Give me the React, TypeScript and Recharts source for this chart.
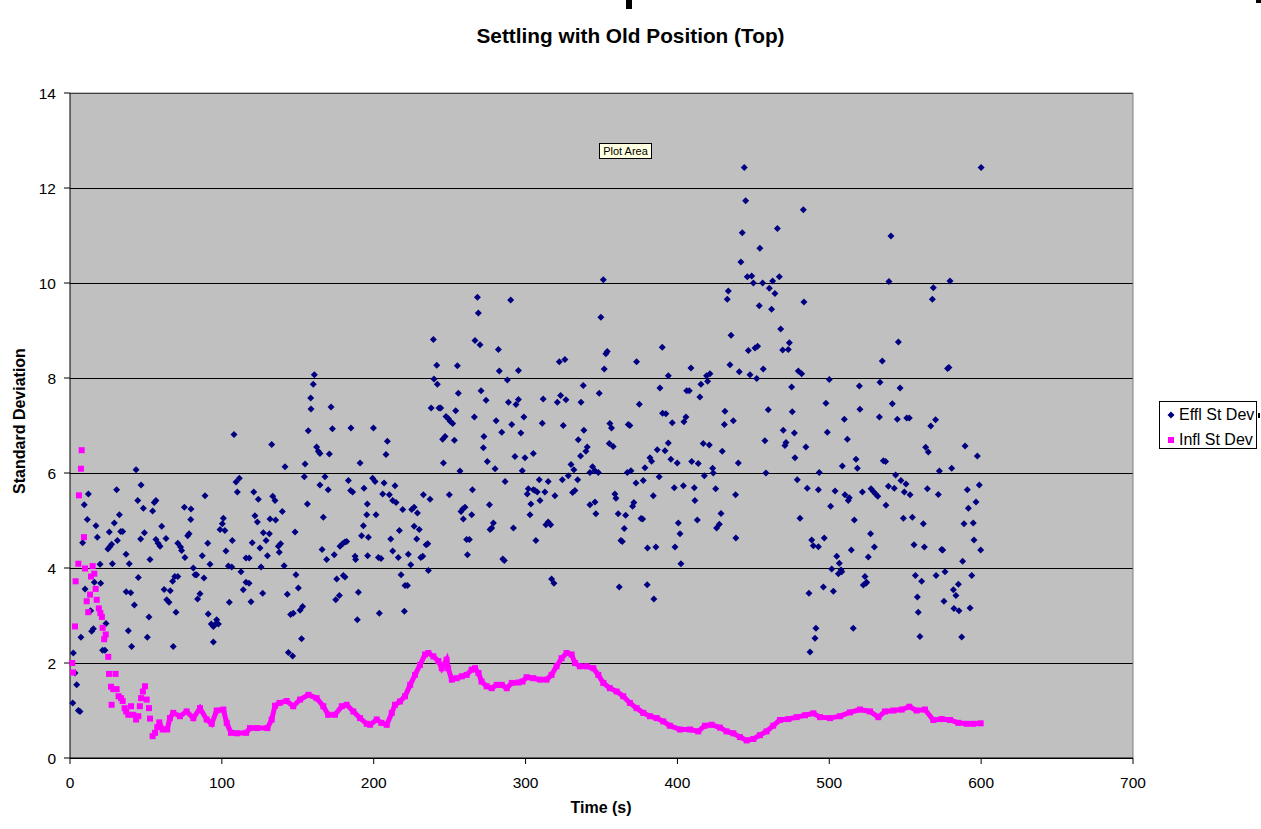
import React from "react";
import {
  CartesianGrid,
  ReferenceLine,
  Scatter,
  ScatterChart,
  XAxis,
  YAxis,
} from "recharts";

const NAVY = "#000080";
const MAGENTA = "#FF00FF";
const FONT = "Arial, 'Liberation Sans', sans-serif";

const X_TICKS = [0, 100, 200, 300, 400, 500, 600, 700];
const Y_TICKS = [0, 2, 4, 6, 8, 10, 12, 14];
const SERIES_NAMES = ["Effl St Dev", "Infl St Dev"];

// Effluent st dev, [time s, value] in 100 s chunks
const efflA = [
  [2.2, 2.21], [3.3, 1.79], [4.4, 1.54], [1.8, 1.16], [5.5, 1.0], [6.6, 0.98], [8.3, 4.53], [9.4, 5.33],
  [12.1, 5.56], [11.4, 5.02], [9.9, 3.56], [7.2, 2.54], [13.6, 3.1], [14.3, 2.67], [15.4, 2.72], [17.1, 4.89],
  [18, 4.65], [16, 3.7], [19.8, 4.08], [20.2, 3.68], [23.7, 2.83], [21.5, 2.27], [23, 2.27], [25, 4.4],
  [26.2, 4.45], [27.4, 4.5], [25.9, 4.76], [29.2, 4.95], [30.7, 5.65], [32.5, 5.12], [33.4, 4.77], [34.7, 4.77],
  [31.2, 4.58], [27.9, 4.09], [36.9, 4.29], [39, 4.09], [37, 3.5], [40, 3.48], [42.4, 3.22], [38.4, 2.68],
  [40.6, 2.35], [43.5, 6.07], [46.8, 5.75], [44.6, 5.42], [48.3, 5.26], [46.5, 4.61], [49, 4.74], [45, 3.8],
  [52.7, 4.18], [52, 2.97], [50.9, 2.54], [54.4, 5.2], [55.5, 5.38], [56.6, 5.42], [56.6, 4.6], [58, 4.52],
  [59.3, 4.46], [60.4, 4.88], [63.2, 4.62], [62, 3.55], [66, 3.52], [63.7, 3.33], [65.2, 3.28], [68, 2.35],
  [69.8, 3.07], [67.6, 3.72], [69, 3.82], [71, 3.82], [71, 4.52], [72.8, 4.44], [73.5, 4.37], [75.7, 4.22],
  [75.3, 5.28], [79.7, 5.24], [79.5, 5.02], [77.5, 4.68], [78.4, 4.72], [81.2, 4.0], [82.3, 3.86], [83.4, 3.86],
  [88.2, 3.79], [84, 3.35], [85.6, 3.46], [87.1, 4.26], [88.9, 5.52], [90.7, 4.52], [92.2, 4.08], [91, 3.03],
  [93, 2.82], [94.4, 2.77], [95.5, 2.81], [96.6, 2.91], [97.7, 2.82], [94.4, 2.44], [98.8, 4.81],
];

const efflB = [
  [101, 5.05], [100.3, 4.93], [102, 4.79], [106.9, 4.58], [102.7, 4.36], [108, 6.81], [109.3, 5.81], [111.5, 5.89],
  [110.2, 5.6], [104.3, 4.04], [106.5, 4.02], [112.6, 3.92], [115.9, 3.7], [117.9, 3.68], [114.1, 3.54], [104.9, 3.28],
  [119.2, 3.29], [115.9, 4.21], [118, 4.21], [120, 4.53], [125.1, 4.42], [125.8, 4.02], [130, 4.26], [129.1, 4.58],
  [127.3, 4.74], [131.3, 4.72], [121.8, 5.1], [123.4, 4.97], [121, 5.6], [124, 5.45], [131.7, 5.03], [135.4, 5.01],
  [133.5, 5.51], [135, 5.42], [132.8, 6.6], [139.8, 5.19], [137.2, 4.46], [138.7, 4.51], [137.8, 4.33], [141, 4.05],
  [126.9, 3.47], [141.6, 6.13], [148.8, 3.86], [150.4, 3.58], [143.1, 3.45], [145.3, 3.02], [147, 3.05], [151.5, 3.11],
  [153.2, 3.19], [152.5, 2.51], [143.8, 2.22], [146.6, 2.15], [148.2, 4.76], [154.8, 6.19], [154.3, 5.92], [156.3, 5.35],
  [156.9, 6.89], [158.7, 7.35], [158.5, 7.58], [160.2, 7.87], [160.9, 8.07], [162.4, 6.55], [163.5, 6.46], [164.6, 6.41],
  [170.8, 6.4], [172.8, 6.93], [171.9, 7.39], [164.6, 5.75], [170, 5.65], [167.9, 5.92], [166.8, 5.07], [166, 4.39],
  [169, 4.18], [174, 4.28], [177.8, 4.46], [179.5, 4.51], [181, 4.55], [182.2, 4.56], [175.6, 3.77], [180, 3.84],
  [181.1, 3.81], [175, 3.33], [177.4, 3.42], [185, 6.95], [183.3, 5.84], [184.8, 5.63], [186.1, 5.6], [191, 6.21],
  [193.6, 5.68], [195.8, 5.35], [195.4, 5.12], [193.2, 4.89], [192, 4.68], [196.5, 4.65], [187.7, 4.25], [188.1, 4.18],
  [196, 4.26], [189.9, 3.49], [189.2, 2.91],
];

const efflC = [
  [199.8, 6.95], [209, 6.67], [208.1, 6.39], [199.3, 5.89], [200.9, 5.82], [206.8, 5.79], [214, 5.73], [205.9, 5.56],
  [210.3, 5.54], [212.5, 5.42], [214.7, 5.38], [201.5, 5.12], [211.2, 4.61], [216.9, 4.79], [219.1, 5.23], [225, 5.23],
  [226.6, 5.28], [228.8, 5.16], [232.7, 5.54], [237.1, 5.45], [226.6, 4.88], [230, 4.81], [228.3, 4.61], [234.5, 4.49],
  [235.6, 4.51], [203.1, 4.22], [204.8, 4.2], [212.5, 4.36], [216.2, 4.22], [222.8, 4.29], [224.4, 4.07], [231, 4.22],
  [232.3, 4.25], [236, 3.95], [218, 3.86], [220.6, 3.63], [222.2, 3.63], [203.7, 3.05], [220.2, 3.09], [239.3, 8.81],
  [241.5, 8.27], [239.7, 7.98], [241.9, 7.87], [237.8, 7.37], [243, 7.37], [244.1, 7.37], [247.6, 7.19], [249.2, 7.14],
  [250.3, 7.09], [252, 7.04], [245.4, 6.71], [247, 6.77], [253.1, 6.69], [254, 7.31], [255.7, 7.68], [255.1, 8.26],
  [245.9, 6.21], [256.8, 6.04], [249.8, 5.54], [257.5, 5.19], [258.6, 5.24], [260.1, 5.28], [259, 5.03], [264.5, 5.12],
  [265, 5.65], [261.2, 4.6], [263, 4.6], [261.7, 4.28], [266.7, 8.79], [270, 8.7], [268.3, 9.7], [268.9, 9.37],
  [266.3, 7.18], [270.7, 7.73], [274, 7.53], [272.6, 6.77], [272.2, 6.53], [274.8, 6.24], [279.9, 6.09], [276.2, 5.33],
  [278.8, 4.95], [277.7, 4.84], [276.6, 4.81], [285, 4.19], [286, 4.16], [282.1, 8.6], [282.7, 8.15], [288, 7.96],
  [290.2, 9.64], [288.7, 7.49], [293.7, 7.44], [295.3, 7.55], [280.6, 7.1], [284.3, 6.86], [290.9, 7.02], [293, 6.35],
  [286.5, 5.82], [292, 4.84], [295.3, 8.16],
];

const efflD = [
  [298.9, 7.18], [296.9, 6.84], [299.6, 6.32], [305.1, 6.41], [297.8, 6.05], [311.6, 7.56], [311, 7.05], [322.2, 8.34],
  [325.9, 8.39], [320.9, 7.49], [323.1, 7.63], [326.6, 7.54], [324.8, 7.0], [309, 5.86], [314.9, 5.82], [301.1, 5.56],
  [301.8, 5.67], [305.1, 5.65], [306.2, 5.63], [307.7, 5.6], [303.5, 5.35], [309.5, 5.42], [312.7, 5.6], [302.9, 5.12],
  [313.4, 4.91], [314.9, 4.97], [316.5, 4.91], [319.3, 5.52], [306.8, 4.58], [317.1, 3.77], [318.7, 3.68], [324.2, 5.86],
  [328.1, 5.94], [329.9, 6.18], [331.8, 6.07], [334.3, 5.86], [331, 5.59], [332.5, 5.63], [334.7, 6.7], [336.2, 6.36],
  [338.4, 6.9], [336.5, 7.49], [338, 7.84], [339.7, 6.46], [340.6, 6.55], [342.4, 6.01], [344.1, 6.13], [345.7, 6.05],
  [347.9, 6.01], [342.4, 5.33], [345.7, 5.39], [346.3, 5.14], [348.5, 7.68], [349.6, 9.28], [351.2, 10.07], [351.8, 8.19],
  [352.9, 8.51], [353.8, 8.56], [355.5, 7.04], [356.6, 6.95], [355.1, 6.62], [357.7, 6.56], [359.5, 5.47], [358.8, 5.56],
  [361, 5.14], [365.9, 5.11], [365, 4.83], [362.8, 4.58], [363.7, 4.56], [361.7, 3.6], [367, 6.01], [369.4, 6.05],
  [367.6, 7.02], [368.7, 7.0], [373.1, 8.34], [374.9, 7.45], [372.7, 5.79], [377.5, 5.84], [371.3, 5.38], [370.5, 5.3],
  [376, 5.04], [377.1, 5.03], [378.6, 6.11], [381.9, 6.32], [383, 6.25], [380.3, 4.42], [385.8, 4.44], [380.1, 3.65],
  [384.5, 3.35], [384.1, 5.52], [388, 5.92], [386.7, 6.49], [391.8, 6.47], [388.5, 7.79], [390, 8.65], [390.2, 7.26],
  [392.4, 7.25], [394, 8.05], [394, 6.63],
];

const efflE = [
  [444, 12.43], [444.9, 11.73], [442.7, 11.06], [441.8, 10.44], [454.3, 10.73], [465.8, 11.15], [482.9, 11.54], [446, 10.13],
  [448.9, 10.15], [450, 10.0], [456.1, 10.0], [460.5, 9.89], [462.7, 10.04], [464.2, 9.78], [467.1, 10.13], [433.5, 9.83],
  [432.8, 9.66], [453.9, 9.52], [462, 9.45], [483.3, 9.6], [435.3, 8.9], [468, 9.03], [473.7, 8.74], [473, 8.6],
  [469.3, 8.59], [446.7, 8.58], [451.1, 8.63], [452.8, 8.67], [434.6, 8.28], [440.7, 8.13], [447.8, 8.07], [452.2, 7.99],
  [456.5, 8.19], [479.6, 8.15], [481.8, 8.09], [408.9, 8.21], [419.2, 8.05], [421.4, 8.09], [419.9, 7.93], [415.5, 7.87],
  [406.1, 7.73], [407.8, 7.73], [414.8, 7.6], [396.6, 7.06], [404.3, 7.08], [405.6, 7.18], [431.3, 7.3], [430.9, 7.02],
  [436.8, 7.1], [459.8, 7.33], [475.2, 7.81], [475.6, 7.29], [469.7, 6.9], [477, 6.84], [457.6, 6.68], [471.5, 6.64],
  [470.8, 6.58], [484.6, 6.55], [477.4, 6.32], [395.7, 6.29], [399.9, 6.21], [417, 6.62], [421, 6.59], [429.5, 6.46],
  [440.1, 6.21], [409.4, 6.24], [413.7, 6.2], [423.2, 6.1], [423.6, 6.0], [417.7, 5.94], [397.9, 5.69], [403.9, 5.73],
  [411.1, 5.69], [411.5, 5.42], [425.2, 5.67], [438.3, 5.54], [458.3, 6.0], [478.9, 5.86], [485.5, 5.68], [492.8, 5.65],
  [493.4, 6.01], [400.6, 4.95], [401.7, 4.72], [398.4, 4.44], [402.3, 4.09], [413.1, 5.01], [428.7, 5.15], [425.8, 4.84],
  [427.6, 4.92], [438.5, 4.63], [480.7, 5.05], [488.4, 4.59], [489.5, 4.47], [492.8, 4.45], [486.6, 3.47], [491.2, 2.73],
  [490.6, 2.52], [487.3, 2.23],
];

const efflF = [
  [600, 12.43], [540.6, 10.99], [539.3, 10.03], [568.5, 9.9], [567.9, 9.66], [579.5, 10.04], [545.5, 8.76], [534.9, 8.36],
  [577.9, 8.2], [578.8, 8.22], [500, 7.97], [519.8, 7.83], [533.4, 7.91], [546.6, 7.79], [497.8, 7.47], [520.2, 7.34],
  [541.5, 7.46], [509.9, 7.13], [533, 7.18], [544.8, 7.13], [551, 7.16], [552.7, 7.16], [566.8, 6.99], [570, 7.12],
  [498.7, 6.86], [511.9, 6.71], [563.5, 6.54], [565.2, 6.44], [589.4, 6.57], [597.5, 6.36], [517.6, 6.29], [518.5, 6.1],
  [508.6, 6.15], [535.6, 6.26], [537.1, 6.24], [572.5, 6.04], [580.6, 6.1], [543.7, 5.96], [503.8, 5.62], [510.3, 5.54],
  [513.2, 5.48], [512.5, 5.42], [500.9, 5.3], [521.8, 5.6], [527.5, 5.67], [529, 5.61], [530.5, 5.56], [531.9, 5.51],
  [538.9, 5.72], [542.8, 5.68], [537.3, 5.32], [547.2, 5.84], [550.5, 5.77], [549.4, 5.6], [553.2, 5.54], [564.6, 5.67],
  [571.8, 5.55], [590.9, 5.65], [598.8, 5.75], [591.6, 5.26], [596.6, 5.39], [516.5, 5.01], [548.8, 5.05], [554.7, 5.07],
  [561.9, 4.93], [588.7, 4.93], [594.8, 4.95], [527.2, 4.72], [496.7, 4.63], [529.7, 4.44], [525.7, 4.23], [514.5, 4.38],
  [555.8, 4.49], [562.6, 4.44], [574, 4.39], [574.7, 4.38], [595.3, 4.59], [599.7, 4.38], [504.9, 4.25], [506.6, 4.1],
  [507.7, 3.96], [506, 3.88], [508.2, 3.92], [501.6, 3.98], [496.1, 3.6], [502.7, 3.51], [523.5, 3.82], [524.6, 3.7],
  [522.4, 3.64], [524.2, 3.68], [587.8, 4.14], [593.8, 3.84], [556.7, 3.84], [560.8, 3.72], [570.3, 3.84], [576.2, 3.92],
  [585, 3.66], [581.7, 3.54], [583.4, 3.42], [575.5, 3.3], [582.1, 3.15], [585.4, 3.1], [592.7, 3.16], [558, 3.39],
  [558.6, 3.07], [515.8, 2.73], [559.7, 2.56], [587.2, 2.55],
];

// Influent st dev: scattered start-up readings, then the settled trace
const inflStart = [
  [1.5, 2.0], [2, 1.8], [3.3, 2.77], [3.7, 3.72], [5.5, 4.09], [5.9, 5.53], [7.2, 6.09], [7.7, 6.48],
  [9.2, 4.65], [9.9, 3.99], [11, 3.3], [12, 3.07], [13.2, 3.44], [13.8, 3.82], [14.9, 4.04], [16, 3.88],
  [16.9, 3.56], [17.6, 3.33], [19, 3.15], [20, 3.05], [21, 2.97], [21.5, 2.74], [22.5, 2.5], [23.5, 2.6],
  [25.2, 2.13], [25.7, 1.77], [27, 1.5], [27.4, 1.12], [28.5, 1.45], [30, 1.77], [30.7, 1.45], [32, 1.3],
  [33.6, 1.26], [34.7, 1.2], [36, 1.05], [37, 0.98], [38.4, 0.91], [40.2, 1.09], [41.7, 0.91], [43.5, 0.81],
  [45, 0.88], [46, 1.09], [46.8, 1.26], [48, 1.4], [49.4, 1.51], [50.5, 1.23], [52, 1.05], [52.7, 0.83],
  [54.4, 0.46], [56, 0.53], [57.5, 0.65],
];

const inflTrace = [
  [58.8, 0.75], [61, 0.6], [64, 0.6], [65.8, 0.84], [68, 0.95], [72.4, 0.88], [76.8, 0.98], [81.2, 0.84],
  [85.6, 1.05], [90, 0.81], [93.3, 0.72], [96.6, 1.0], [101, 1.02], [103.2, 0.74], [106, 0.53], [110, 0.52],
  [116, 0.53], [118.5, 0.63], [123, 0.63], [130, 0.63], [132.8, 0.81], [135, 1.1], [138, 1.16], [142.7, 1.2],
  [147, 1.09], [151.5, 1.23], [157, 1.33], [162.4, 1.26], [166.8, 1.09], [170, 0.91], [174.5, 0.91], [179, 1.09],
  [182.2, 1.12], [186.6, 0.98], [191, 0.84], [195.4, 0.72], [197.6, 0.7], [202, 0.81], [205, 0.74], [208.6, 0.7],
  [211.9, 0.95], [214, 1.12], [217.3, 1.19], [220.6, 1.3], [224, 1.54], [227.2, 1.75], [230.5, 1.96], [233.8, 2.18],
  [236, 2.21], [239.3, 2.14], [242.6, 2.04], [244.8, 1.89], [248, 2.07], [249, 1.89], [251.4, 1.65], [254.6, 1.68],
  [258, 1.72], [261.2, 1.75], [264.5, 1.86], [266.7, 1.89], [269, 1.79], [271, 1.61], [274.4, 1.51], [277.7, 1.47],
  [281, 1.54], [284.3, 1.54], [287.6, 1.47], [290.9, 1.58], [295.3, 1.59], [298, 1.61], [300.7, 1.7], [305, 1.68],
  [309.5, 1.65], [313.8, 1.65], [317.1, 1.75], [320.4, 1.93], [323.7, 2.1], [327, 2.21], [330.3, 2.18], [332.5, 2.0],
  [335.8, 1.93], [340.2, 1.93], [344.6, 1.89], [347.9, 1.75], [351.2, 1.58], [355.5, 1.47], [360, 1.4], [364.3, 1.3],
  [368.7, 1.16], [373.1, 1.05], [377.5, 0.95], [381.9, 0.88], [386.3, 0.84], [390.7, 0.77], [395, 0.68], [401.7, 0.6],
  [408.3, 0.6], [413.7, 0.56], [418.1, 0.68], [422.5, 0.7], [428, 0.64], [432.4, 0.56], [436.8, 0.52], [441.2, 0.44],
  [445.6, 0.37], [450, 0.4], [454.3, 0.48], [458.7, 0.56], [463.1, 0.68], [467.5, 0.8], [473, 0.82], [478.5, 0.86],
  [484, 0.9], [489.5, 0.94], [493.9, 0.86], [500.5, 0.84], [507, 0.88], [513.6, 0.96], [520.2, 1.02], [526.8, 0.98],
  [532.3, 0.86], [536.7, 0.98], [542.2, 1.0], [547.7, 1.02], [552.7, 1.08], [557.5, 1.0], [563, 1.02], [568.5, 0.8],
  [574, 0.82], [579.5, 0.8], [585, 0.74], [590.5, 0.72], [594.8, 0.72], [599.7, 0.73],
];

const toPoints = (pairs: number[][]) => pairs.map(([x, y]) => ({ x, y }));

const efflPoints = toPoints([...efflA, ...efflB, ...efflC, ...efflD, ...efflE, ...efflF]);
const inflStartPoints = toPoints(inflStart);
const inflTracePoints = toPoints(inflTrace);

function Diamond(props: any) {
  const { cx, cy } = props;
  if (cx == null || cy == null) return null;
  const r = 3.5;
  return (
    <path
      d={`M${cx},${cy - r}L${cx + r},${cy}L${cx},${cy + r}L${cx - r},${cy}Z`}
      fill={NAVY}
    />
  );
}

function Square(props: any) {
  const { cx, cy } = props;
  if (cx == null || cy == null) return null;
  return <rect x={cx - 3} y={cy - 3} width={6} height={6} fill={MAGENTA} />;
}

// Excel-style legend box, kept outside the chart so it takes no room from the plot
function LegendBox() {
  return (
    <div
      style={{
        position: "absolute",
        left: 1159,
        top: 401,
        width: 96,
        height: 46,
        border: "1px solid #000",
        background: "#fff",
        fontSize: 16,
        color: "#000",
      }}
    >
      {SERIES_NAMES.map((name, i) => (
        <div
          key={name}
          style={{
            position: "absolute",
            left: 6,
            top: 3 + i * 25,
            height: 20,
            lineHeight: "20px",
            whiteSpace: "nowrap",
            display: "flex",
            alignItems: "center",
          }}
        >
          <svg width={10} height={10} style={{ marginRight: 3 }}>
            {i === 0 ? (
              <path d="M5,1.5L8.5,5L5,8.5L1.5,5Z" fill={NAVY} />
            ) : (
              <rect x={2} y={2} width={6} height={6} fill={MAGENTA} />
            )}
          </svg>
          {name}
        </div>
      ))}
    </div>
  );
}

const tickStyle = { fill: "#000", fontSize: 15.5, fontFamily: FONT };

export default function App() {
  return (
    <div
      style={{
        position: "absolute",
        left: 0,
        top: 0,
        width: 1261,
        height: 829,
        background: "#fff",
        fontFamily: FONT,
      }}
    >
      <style>{".recharts-cartesian-grid line { shape-rendering: crispEdges; }"}</style>
      <ScatterChart
        width={1261}
        height={829}
        margin={{ top: 93, right: 128, bottom: 31, left: 10 }}
      >
        <CartesianGrid
          vertical={false}
          stroke="#000"
          strokeOpacity={1}
          fill="#C0C0C0"
          fillOpacity={1}
        />
        <XAxis
          type="number"
          dataKey="x"
          domain={[0, 700]}
          ticks={X_TICKS}
          interval={0}
          height={40}
          tickSize={6}
          tickMargin={13}
          axisLine={{ stroke: "#000" }}
          tickLine={{ stroke: "#000" }}
          tick={tickStyle}
        />
        <YAxis
          type="number"
          dataKey="y"
          domain={[0, 14]}
          ticks={Y_TICKS}
          interval={0}
          width={60}
          tickSize={6}
          tickMargin={8}
          axisLine={{ stroke: "#000" }}
          tickLine={{ stroke: "#000" }}
          tick={tickStyle}
        />
        <ReferenceLine y={14} stroke="#808080" />
        <ReferenceLine x={700} stroke="#808080" />
        <Scatter
          name={SERIES_NAMES[0]}
          data={efflPoints}
          shape={Diamond}
          isAnimationActive={false}
        />
        <Scatter
          name={SERIES_NAMES[1]}
          data={inflStartPoints}
          shape={Square}
          isAnimationActive={false}
        />
        <Scatter
          name={SERIES_NAMES[1]}
          data={inflTracePoints}
          shape={Square}
          line={{ stroke: MAGENTA, strokeWidth: 5 }}
          isAnimationActive={false}
        />
      </ScatterChart>

      <LegendBox />

      <div
        style={{
          position: "absolute",
          left: 0,
          top: 25,
          width: 1261,
          textAlign: "center",
          fontWeight: "bold",
          fontSize: 20.8,
          lineHeight: "22px",
        }}
      >
        Settling with Old Position (Top)
      </div>
      <div
        style={{
          position: "absolute",
          left: -80,
          top: 411,
          width: 200,
          height: 20,
          lineHeight: "20px",
          textAlign: "center",
          fontWeight: "bold",
          fontSize: 16,
          transform: "rotate(-90deg)",
        }}
      >
        Standard Deviation
      </div>
      <div
        style={{
          position: "absolute",
          left: 501,
          top: 798,
          width: 200,
          lineHeight: "20px",
          textAlign: "center",
          fontWeight: "bold",
          fontSize: 16,
        }}
      >
        Time (s)
      </div>
      <div
        style={{
          position: "absolute",
          left: 599,
          top: 143,
          width: 51,
          height: 14,
          lineHeight: "14px",
          background: "#FFFFE1",
          border: "1px solid #000",
          fontSize: 11,
          textAlign: "center",
        }}
      >
        Plot Area
      </div>
      <div style={{ position: "absolute", left: 626, top: 0, width: 6, height: 9, background: "#000" }} />
      <div style={{ position: "absolute", left: 1256, top: 0, width: 5, height: 3, background: "#000" }} />
      <div style={{ position: "absolute", left: 1258, top: 413, width: 2, height: 5, background: "#000" }} />
    </div>
  );
}
